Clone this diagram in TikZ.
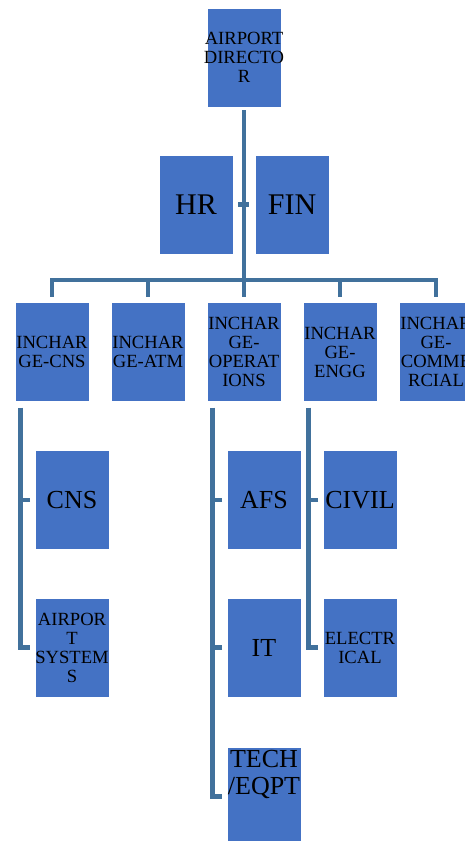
\documentclass[tikz,border=0pt]{standalone}
\usepackage{fontspec}
\setmainfont{Liberation Serif}
\definecolor{boxblue}{HTML}{4472C4}
\definecolor{linkblue}{HTML}{41719C}
\begin{document}
\begin{tikzpicture}[x=1pt,y=-1pt,
  box/.style={fill=boxblue,draw=white,line width=0.8pt,minimum width=74pt,minimum height=99pt,inner sep=0pt,outer sep=0pt},
  small/.style={align=center,inner sep=0pt,font=\fontsize{18.6}{19}\selectfont},
  mid/.style={align=center,inner sep=0pt,font=\fontsize{26}{27}\selectfont},
  big/.style={align=center,inner sep=0pt,font=\fontsize{30}{31}\selectfont},
  link/.style={draw=linkblue,line width=4.2pt}]
\useasboundingbox (0,0) rectangle (465,841);
% boxes
\node[box] (dir) at (244,57.5) {};
\node[box] (hr) at (196,204.5) {};
\node[box] (fin) at (292,204.5) {};
\node[box] (c1) at (52,352) {};
\node[box] (c2) at (148,352) {};
\node[box] (c3) at (244,352) {};
\node[box] (c4) at (340,352) {};
\node[box] (c5) at (436,352) {};
\node[box] (cns) at (72,500) {};
\node[box] (asys) at (72,647.5) {};
\node[box] (afs) at (264,500) {};
\node[box] (it) at (264,647.5) {};
\node[box] (tech) at (264,796.5) {};
\node[box] (civil) at (360,500) {};
\node[box] (elec) at (360,647.5) {};
% connectors
\path (dir.south) ++(0,173) coordinate (bar);
\draw[link] ([yshift=-3pt]dir.south) -- ([yshift=6pt]c3.north);
\draw[link] ([xshift=5pt]hr.east) -- ([xshift=-6pt]fin.west);
\draw[link] ([yshift=6pt]c1.north) |- (bar) -| ([yshift=6pt]c5.north);
\draw[link] ([yshift=6pt]c2.north) -- (c2.north |- bar);
\draw[link] ([yshift=6pt]c4.north) -- (c4.north |- bar);
\coordinate (v1) at ([xshift=5.5pt,yshift=-6pt]c1.south west);
\coordinate (v3) at ([xshift=5.5pt,yshift=-6pt]c3.south west);
\coordinate (v4) at ([xshift=5.5pt,yshift=-6pt]c4.south west);
\draw[link] (v1) |- ([xshift=-5pt]asys.west);
\draw[link] ([xshift=-5pt]cns.west) -- (cns.west -| v1);
\draw[link] (v3) |- ([xshift=-5pt]tech.west);
\draw[link] ([xshift=-5pt]afs.west) -- (afs.west -| v3);
\draw[link] ([xshift=-5pt]it.west) -- (it.west -| v3);
\draw[link] (v4) |- ([xshift=-5pt]elec.west);
\draw[link] ([xshift=-5pt]civil.west) -- (civil.west -| v4);
% texts
\node[small] (dir-t) at (dir) {AIRPORT\\DIRECTO\\R};
\node[big] (hr-t) at (hr) {HR};
\node[big] (fin-t) at (fin) {FIN};
\node[small] (c1-t) at (c1) {INCHAR\\GE-CNS};
\node[small] (c2-t) at (c2) {INCHAR\\GE-ATM};
\node[small] (c3-t) at (c3) {INCHAR\\GE-\\OPERAT\\IONS};
\node[small] (c4-t) at (c4) {INCHAR\\GE-\\ENGG};
\node[small] (c5-t) at (c5) {INCHAR\\GE-\\COMME\\RCIAL};
\node[mid] (cns-t) at (cns) {CNS};
\node[small] (asys-t) at (asys) {AIRPOR\\T\\SYSTEM\\S};
\node[mid] (afs-t) at (afs) {AFS};
\node[mid] (it-t) at (it) {IT};
\node[mid] (tech-t) at ([yshift=22.5pt]tech.center) {TECH\\/EQPT};
\node[mid] (civil-t) at (civil) {CIVIL};
\node[small] (elec-t) at (elec) {ELECTR\\ICAL};
\end{tikzpicture}
\end{document}
